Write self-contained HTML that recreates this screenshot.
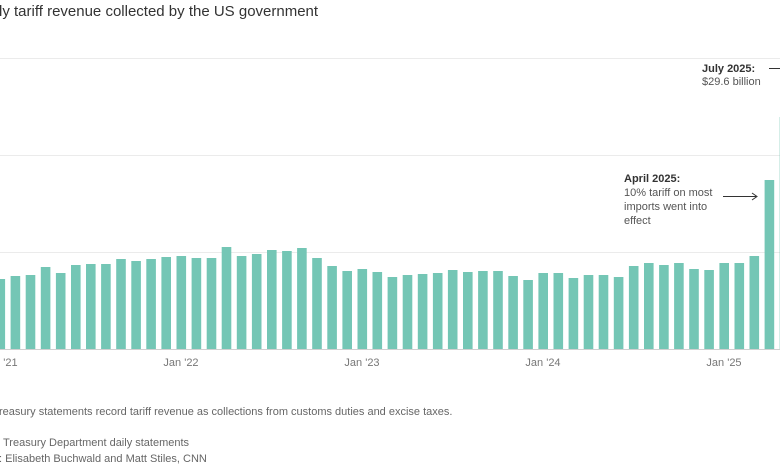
<!DOCTYPE html>
<html><head><style>
body{margin:0;background:#fff;width:780px;height:470px;overflow:hidden}
svg{display:block;font-family:"Liberation Sans",Arial,sans-serif}
</style></head><body>
<svg width="780" height="470" viewBox="0 0 780 470">
<text x="-1" y="16" font-size="15" fill="#333">ly tariff revenue collected by the US government</text>
<g stroke="#ebebeb" stroke-width="1">
<line x1="0" y1="58.5" x2="780" y2="58.5"/>
<line x1="0" y1="155.5" x2="780" y2="155.5"/>
<line x1="0" y1="252.5" x2="780" y2="252.5"/>
</g>
<g fill="#74c6b5">
<rect x="-4.5" y="279" width="9.6" height="70"/>
<rect x="10.6" y="276" width="9.6" height="73"/>
<rect x="25.7" y="275" width="9.6" height="74"/>
<rect x="40.8" y="267" width="9.6" height="82"/>
<rect x="55.9" y="273" width="9.6" height="76"/>
<rect x="71.0" y="265" width="9.6" height="84"/>
<rect x="86.0" y="264" width="9.6" height="85"/>
<rect x="101.1" y="264" width="9.6" height="85"/>
<rect x="116.2" y="259" width="9.6" height="90"/>
<rect x="131.3" y="261" width="9.6" height="88"/>
<rect x="146.3" y="259" width="9.6" height="90"/>
<rect x="161.4" y="257" width="9.6" height="92"/>
<rect x="176.5" y="256" width="9.6" height="93"/>
<rect x="191.6" y="258" width="9.6" height="91"/>
<rect x="206.7" y="258" width="9.6" height="91"/>
<rect x="221.7" y="247" width="9.6" height="102"/>
<rect x="236.8" y="256" width="9.6" height="93"/>
<rect x="251.9" y="254" width="9.6" height="95"/>
<rect x="267.0" y="250" width="9.6" height="99"/>
<rect x="282.1" y="251" width="9.6" height="98"/>
<rect x="297.1" y="248" width="9.6" height="101"/>
<rect x="312.2" y="258" width="9.6" height="91"/>
<rect x="327.3" y="266" width="9.6" height="83"/>
<rect x="342.4" y="271" width="9.6" height="78"/>
<rect x="357.5" y="269" width="9.6" height="80"/>
<rect x="372.5" y="272" width="9.6" height="77"/>
<rect x="387.6" y="277" width="9.6" height="72"/>
<rect x="402.7" y="275" width="9.6" height="74"/>
<rect x="417.8" y="274" width="9.6" height="75"/>
<rect x="432.9" y="273" width="9.6" height="76"/>
<rect x="447.9" y="270" width="9.6" height="79"/>
<rect x="463.0" y="272" width="9.6" height="77"/>
<rect x="478.1" y="271" width="9.6" height="78"/>
<rect x="493.2" y="271" width="9.6" height="78"/>
<rect x="508.3" y="276" width="9.6" height="73"/>
<rect x="523.3" y="280" width="9.6" height="69"/>
<rect x="538.4" y="273" width="9.6" height="76"/>
<rect x="553.5" y="273" width="9.6" height="76"/>
<rect x="568.6" y="278" width="9.6" height="71"/>
<rect x="583.7" y="275" width="9.6" height="74"/>
<rect x="598.7" y="275" width="9.6" height="74"/>
<rect x="613.8" y="277" width="9.6" height="72"/>
<rect x="628.9" y="266" width="9.6" height="83"/>
<rect x="644.0" y="263" width="9.6" height="86"/>
<rect x="659.1" y="265" width="9.6" height="84"/>
<rect x="674.1" y="263" width="9.6" height="86"/>
<rect x="689.2" y="269" width="9.6" height="80"/>
<rect x="704.3" y="270" width="9.6" height="79"/>
<rect x="719.4" y="263" width="9.6" height="86"/>
<rect x="734.5" y="263" width="9.6" height="86"/>
<rect x="749.5" y="256" width="9.6" height="93"/>
<rect x="764.6" y="180" width="9.6" height="169"/>
<rect x="779.7" y="117" width="9.6" height="232"/>
</g>
<line x1="0" y1="349.5" x2="780" y2="349.5" stroke="#d0d0d0"/>
<g font-size="11" fill="#777" text-anchor="middle">
<text x="0" y="366">Jan '21</text>
<text x="181" y="366">Jan '22</text>
<text x="362" y="366">Jan '23</text>
<text x="543" y="366">Jan '24</text>
<text x="724" y="366">Jan '25</text>
</g>
<g font-size="11" fill="#333">
<text x="702" y="72" font-weight="bold">July 2025:</text>
<text x="702" y="85" fill="#555">$29.6 billion</text>
<text x="624" y="182" font-weight="bold">April 2025:</text>
<text x="624" y="196" fill="#555">10% tariff on most</text>
<text x="624" y="210" fill="#555">imports went into</text>
<text x="624" y="224" fill="#555">effect</text>
</g>
<line x1="769" y1="68.5" x2="780" y2="68.5" stroke="#333"/>
<line x1="723" y1="196.5" x2="756" y2="196.5" stroke="#333"/>
<polyline points="752,193 757,196.5 752,200" fill="none" stroke="#333"/>
<g font-size="11" fill="#666">
<text x="-1" y="415">reasury statements record tariff revenue as collections from customs duties and excise taxes.</text>
<text x="3" y="446">Treasury Department daily statements</text>
<text x="-1" y="462">: Elisabeth Buchwald and Matt Stiles, CNN</text>
</g>
</svg>
</body></html>
